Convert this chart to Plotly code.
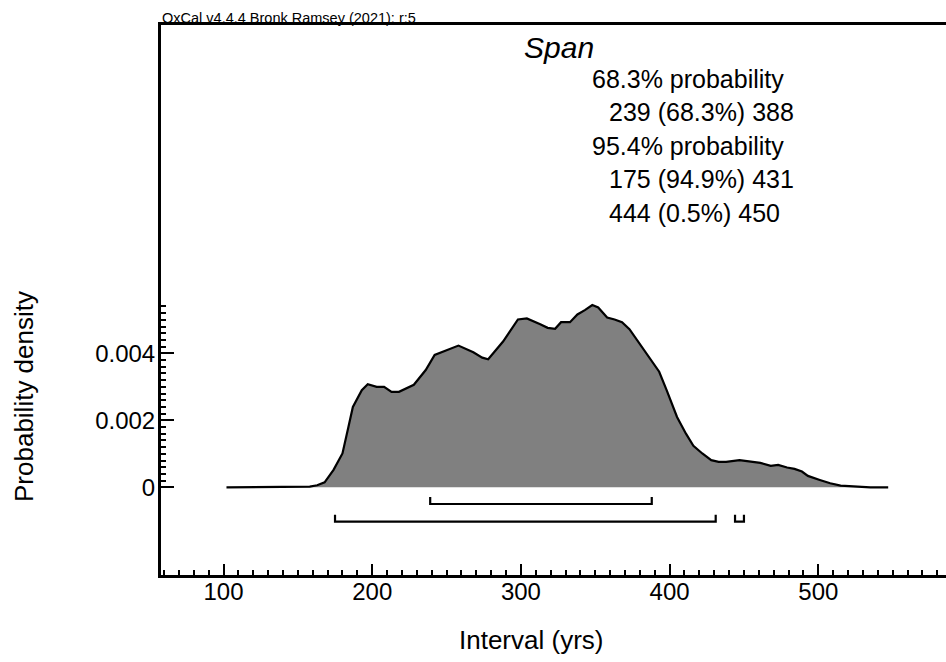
import plotly.graph_objects as go

# ---- data ----
interval = [102, 150, 158, 163, 168, 174, 180, 184, 187, 193, 197, 203, 208, 213, 218,
            228, 236, 242, 250, 258, 268, 274, 278, 288, 298, 304, 313, 318, 323, 327,
            333, 338, 343, 348, 352, 358, 363, 368, 373, 379, 383, 388, 393, 398, 405,
            411, 416, 422, 428, 433, 438, 447, 454, 461, 468, 473, 479, 484, 489, 493,
            501, 508, 515, 524, 535, 547]
density = [0, 0, 0.00002, 0.00006, 0.00015, 0.00052, 0.00101, 0.0018, 0.0024, 0.0029,
           0.00308, 0.0030, 0.0030, 0.00285, 0.00285, 0.00306, 0.0035, 0.00395, 0.0041,
           0.00423, 0.00403, 0.00387, 0.00382, 0.00435, 0.00501, 0.00504, 0.00487,
           0.00476, 0.00473, 0.00493, 0.00493, 0.00516, 0.00529, 0.00544, 0.00537,
           0.00507, 0.00501, 0.00493, 0.00472, 0.00435, 0.0041, 0.00378, 0.00345,
           0.0029, 0.0021, 0.0016, 0.00124, 0.00101, 0.00081, 0.00076, 0.00076,
           0.00081, 0.00076, 0.00073, 0.00064, 0.00067, 0.00059, 0.00055, 0.00047,
           0.00034, 0.00022, 0.00012, 0.00005, 0.00002, 0, 0]

range68_lo = [239]
range68_hi = [388]
range95_lo = [175, 444]
range95_hi = [431, 450]

x_tickvals = [100, 200, 300, 400, 500]
x_ticktext = ["100", "200", "300", "400", "500"]
y_tickvals = [0, 0.002, 0.004]
y_ticktext = ["0", "0.002", "0.004"]

title_text = "OxCal v4.4.4 Bronk Ramsey (2021); r:5"
name_text = "Span"
summary_lines = ["68.3% probability", "239 (68.3%) 388", "95.4% probability",
                 "175 (94.9%) 431", "444 (0.5%) 450"]
summary_indent = [0, 1, 0, 1, 1]

FONT = "Arial, Liberation Sans, sans-serif"

# plot box in pixels
L, R, T, B = 161, 946, 25, 575
W, H = R - L, B - T


def px_x(px):
    return (px - L) / W


def px_y(py):
    return (B - py) / H


fig = go.Figure()
fig.add_trace(go.Scatter(x=interval, y=density, mode="lines", fill="tozeroy",
                         fillcolor="#808080", line=dict(color="black", width=2.2),
                         hoverinfo="skip"))


def bracket(los, his, level, tick):
    xs, ys = [], []
    for lo, hi in zip(los, his):
        xs += [lo, lo, hi, hi, None]
        ys += [level + tick, level, level, level + tick, None]
    return xs, ys


tick_h = 0.00021
for los, his, lev in [(range68_lo, range68_hi, -0.000498), (range95_lo, range95_hi, -0.001027)]:
    bx, by = bracket(los, his, lev, tick_h)
    fig.add_trace(go.Scatter(x=bx, y=by, mode="lines", line=dict(color="black", width=2.2),
                             hoverinfo="skip"))

annotations = [
    dict(text=title_text, x=0, y=1, xref="paper", yref="paper", xanchor="left",
         yanchor="bottom", showarrow=False, font=dict(size=14.5, family=FONT, color="black"),
         yshift=-3, xshift=-1),
    dict(text="<i>" + name_text + "</i>", x=px_x(522), y=px_y(47), xref="paper", yref="paper",
         xanchor="left", yanchor="middle", showarrow=False,
         font=dict(size=30, family=FONT, color="black")),
]
ys_lines = [78.5, 112, 145.5, 179, 212.5]
for t, ind, yy in zip(summary_lines, summary_indent, ys_lines):
    annotations.append(dict(text=t, x=px_x(607 if ind else 590), y=px_y(yy), xref="paper",
                            yref="paper", xanchor="left", yanchor="middle", showarrow=False,
                            font=dict(size=25, family=FONT, color="black")))
annotations.append(dict(text="Interval (yrs)", x=px_x(531), y=px_y(640), xref="paper",
                        yref="paper", xanchor="center", yanchor="middle", showarrow=False,
                        font=dict(size=26, family=FONT, color="black")))
annotations.append(dict(text="Probability density", x=px_x(24), y=px_y(397), xref="paper",
                        yref="paper", xanchor="center", yanchor="middle", textangle=-90,
                        showarrow=False, font=dict(size=26, family=FONT, color="black")))

y_minor = [round(0.0002 * i, 6) for i in range(1, 28)]

xmin = 100 - (223.5 - L) / 1.487
xmax = 100 + (R - 223.5) / 1.487
ymin = -(B - 487.3) / 33500
ymax = (487.3 - T) / 33500

fig.update_layout(
    width=946, height=662,
    margin=dict(l=L, r=0, t=T, b=662 - B, pad=0),
    paper_bgcolor="white", plot_bgcolor="white",
    showlegend=False,
    font=dict(family=FONT, size=24, color="black"),
    annotations=annotations,
    xaxis=dict(range=[xmin, xmax], showline=True, linewidth=3, linecolor="black",
               mirror=True, ticks="inside", ticklen=11, tickwidth=2, tickcolor="black",
               tickvals=x_tickvals, ticktext=x_ticktext, tickfont=dict(size=24),
               ticklabelstandoff=-7,
               showgrid=False, zeroline=False,
               minor=dict(dtick=10, tick0=0, ticks="inside", ticklen=5, tickwidth=1.5,
                          tickcolor="black", showgrid=False)),
    yaxis=dict(range=[ymin, ymax], showline=True, linewidth=3, linecolor="black",
               mirror=False, ticks="inside", ticklen=13, tickwidth=2, tickcolor="black",
               tickvals=y_tickvals, ticktext=y_ticktext, tickfont=dict(size=24),
               ticklabelstandoff=-2,
               showgrid=False, zeroline=False,
               minor=dict(tickmode="array", tickvals=y_minor, ticks="inside", ticklen=5,
                          tickwidth=1.5, tickcolor="black", showgrid=False)),
)

fig.write_html("out.html", config={"displayModeBar": False},
               post_script="document.body.style.margin='0';document.body.style.overflow='hidden';")
